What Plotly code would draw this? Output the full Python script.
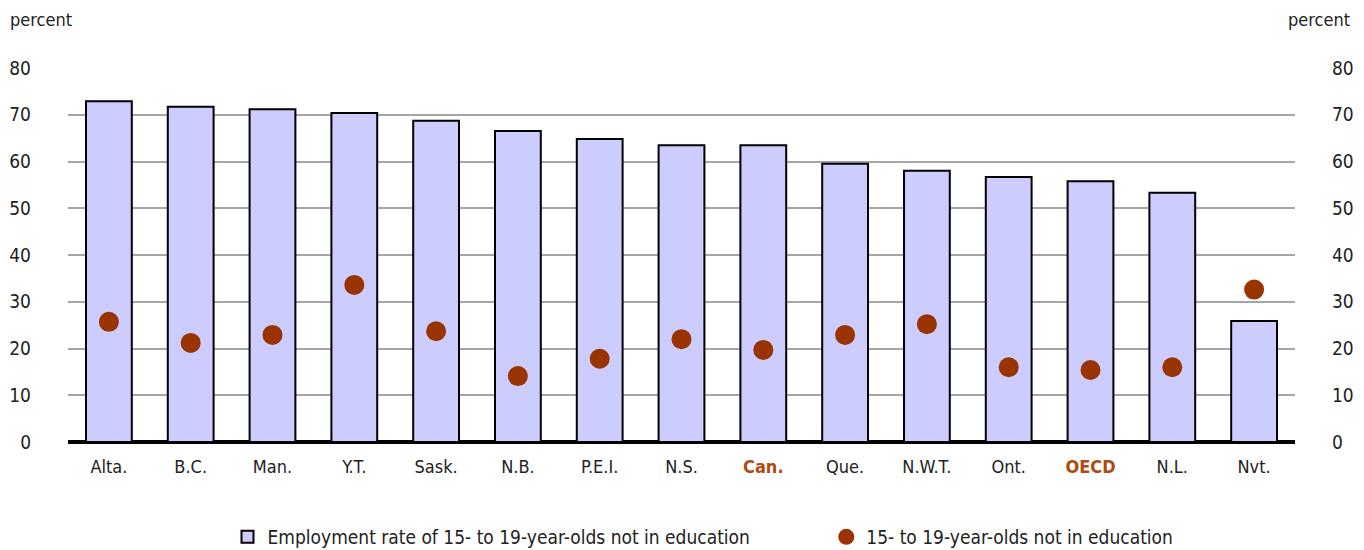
import plotly.graph_objects as go

categories = ["Alta.", "B.C.", "Man.", "Y.T.", "Sask.", "N.B.", "P.E.I.", "N.S.", "Can.",
              "Que.", "N.W.T.", "Ont.", "OECD", "N.L.", "Nvt."]
employment_rate = [72.9, 71.7, 71.2, 70.4, 68.7, 66.5, 64.8, 63.5, 63.5,
                   59.5, 58.0, 56.7, 55.8, 53.3, 25.9]
not_in_education = [25.7, 21.2, 22.9, 33.6, 23.7, 14.1, 17.8, 22.0, 19.7,
                    22.9, 25.2, 16.0, 15.4, 16.0, 32.6]
y_ticks = [0, 10, 20, 30, 40, 50, 60, 70, 80]
highlight = {"Can.", "OECD"}

FONT = "DejaVu Sans Condensed, Liberation Sans Narrow, sans-serif"
HL_COLOR = "#B04A10"

ticktext = [f"<b><span style='color:{HL_COLOR}'>{c}</span></b>" if c in highlight else c
            for c in categories]

fig = go.Figure()
fig.add_trace(go.Bar(
    x=categories, y=employment_rate,
    name="Employment rate of 15- to 19-year-olds not in education",
    marker=dict(color="#CCCCFF", line=dict(color="black", width=2)),
    width=0.56, legend="legend",
))
fig.add_trace(go.Scatter(
    x=categories, y=not_in_education, mode="markers",
    name="15- to 19-year-olds not in education",
    marker=dict(color="#993300", size=20, line=dict(width=0)),
    legend="legend2",
))
# invisible trace for right axis
fig.add_trace(go.Scatter(x=categories, y=employment_rate, yaxis="y2",
                         mode="markers", marker=dict(opacity=0),
                         showlegend=False, hoverinfo="skip"))

legend_common = dict(orientation="h", yanchor="middle", y=-0.254, xanchor="left",
                     font=dict(size=19, color="#222222"),
                     bgcolor="rgba(0,0,0,0)")

fig.update_layout(
    width=1364, height=550,
    margin=dict(l=68, r=69, t=68, b=108, autoexpand=False),
    plot_bgcolor="white", paper_bgcolor="white",
    font=dict(family=FONT, size=18, color="#222222"),
    xaxis=dict(
        tickmode="array", tickvals=categories, ticktext=ticktext,
        showgrid=False, ticks="", showline=False, zeroline=False,
        tickfont=dict(size=18), range=[-0.5, 14.5], automargin=False,
        ticklabelstandoff=12,
    ),
    yaxis=dict(
        range=[0, 80], tickvals=y_ticks, showgrid=True, gridcolor="#A6A6A6",
        gridwidth=2, zeroline=True, zerolinecolor="black", zerolinewidth=4,
        ticks="", showline=False, tickfont=dict(size=19),
        ticklabelstandoff=36, automargin=False,
    ),
    yaxis2=dict(
        range=[0, 80], tickvals=y_ticks, overlaying="y", side="right",
        showgrid=False, zeroline=False, ticks="", showline=False,
        tickfont=dict(size=19), ticklabelstandoff=36, automargin=False,
    ),
    legend=dict(x=0.130, itemsizing="constant", **legend_common),
    legend2=dict(x=0.618, itemsizing="trace", **legend_common),
    showlegend=True,
    annotations=[
        dict(text="percent", xref="paper", yref="paper", x=-0.049, y=1.0,
             xanchor="left", yanchor="bottom", yshift=36, showarrow=False,
             font=dict(size=18)),
        dict(text="percent", xref="paper", yref="paper", x=1.0465, y=1.0,
             xanchor="right", yanchor="bottom", yshift=36, showarrow=False,
             font=dict(size=18)),
    ],
)

fig.write_html("out.html", config={"displayModeBar": False},
               post_script="document.body.style.margin='0';")
